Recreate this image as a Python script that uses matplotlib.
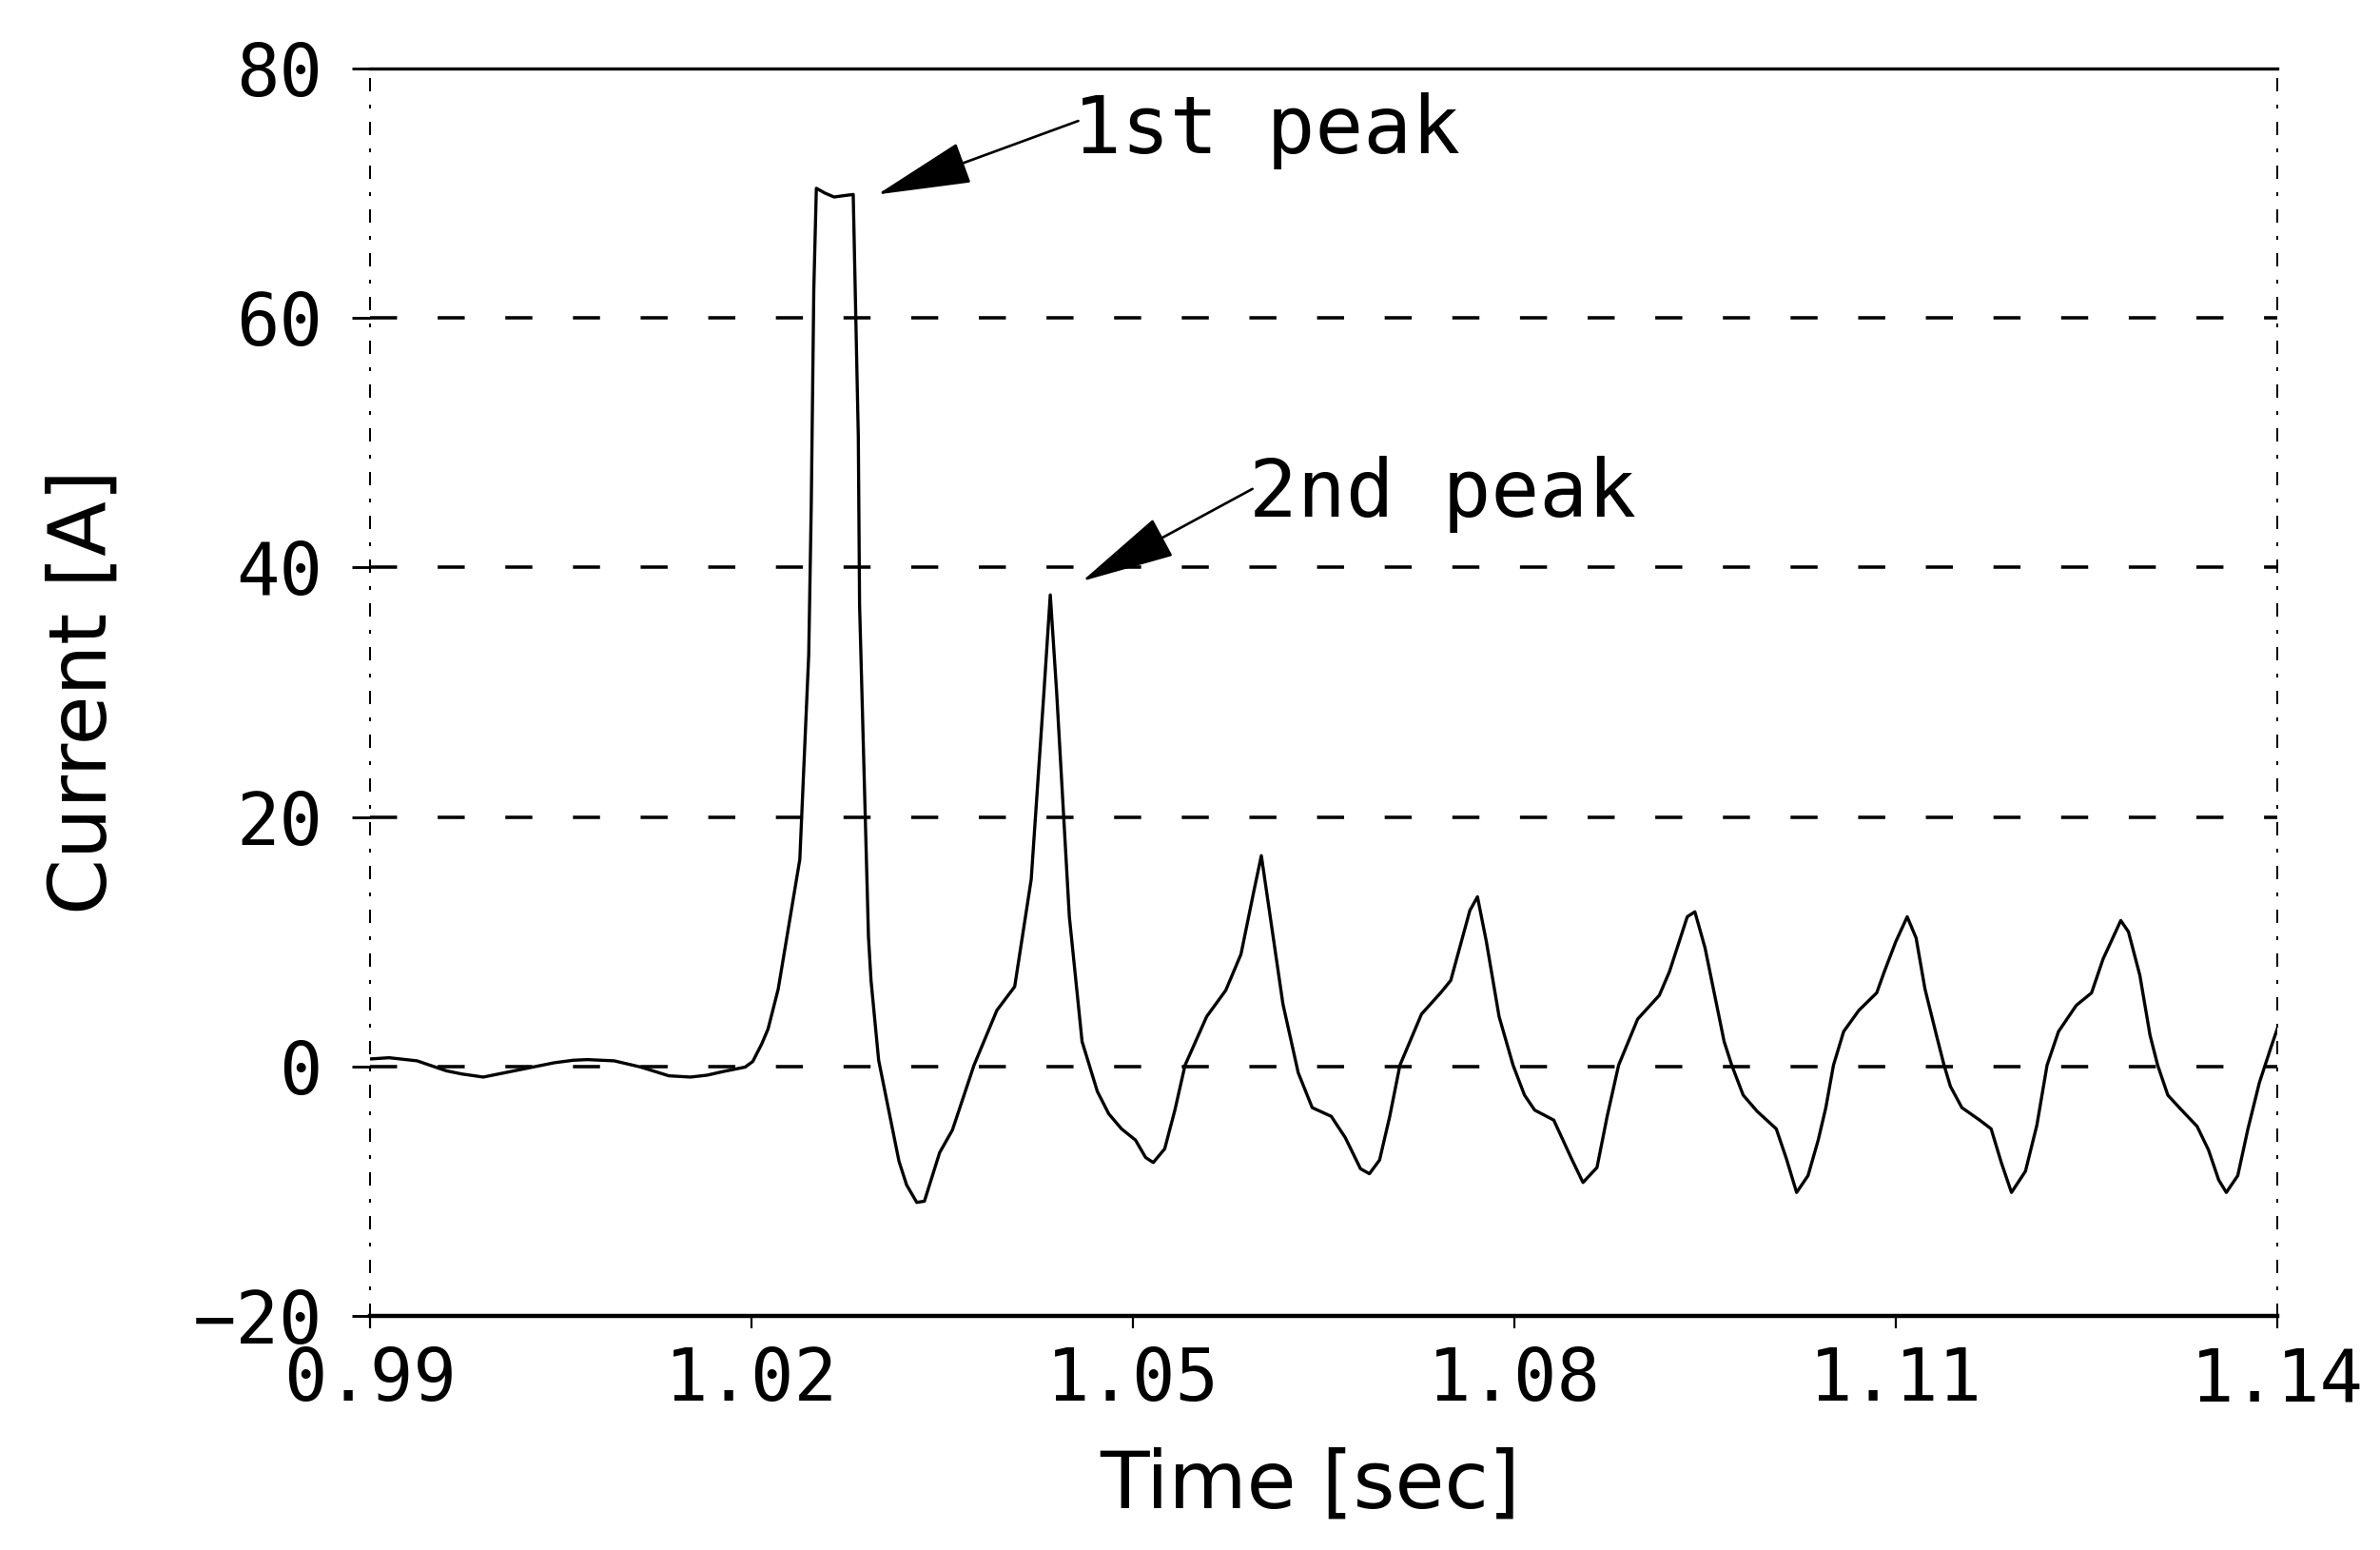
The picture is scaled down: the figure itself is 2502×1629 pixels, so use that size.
import numpy as np
import matplotlib.pyplot as plt

# current waveform
t = [0.9900, 0.9915, 0.9937, 0.9950, 0.9960, 0.9972, 0.9989, 1.0006, 1.0028,
     1.0045, 1.0060, 1.0071, 1.0092, 1.0113, 1.0135, 1.0152, 1.0165, 1.0178,
     1.0195, 1.0201, 1.0208, 1.0213, 1.0221, 1.0238, 1.0245, 1.0247, 1.0249,
     1.0251, 1.0258, 1.0265, 1.0272, 1.0280, 1.0284, 1.0285, 1.0292, 1.0294,
     1.0300, 1.0316, 1.0322, 1.0330, 1.0336, 1.0348, 1.0358, 1.0375, 1.0393,
     1.0407, 1.0420, 1.0430, 1.0435, 1.0440, 1.0450, 1.0460, 1.0472, 1.0481,
     1.0491, 1.0502, 1.0510, 1.0516, 1.0525, 1.0533, 1.0541, 1.0558, 1.0573,
     1.0585, 1.0595, 1.0601, 1.0608, 1.0618, 1.0630, 1.0641, 1.0656, 1.0667,
     1.0679, 1.0686, 1.0694, 1.0702, 1.0710, 1.0727, 1.0742, 1.0750, 1.0765,
     1.0771, 1.0778, 1.0788, 1.0799, 1.0808, 1.0816, 1.0831, 1.0845, 1.0854,
     1.0865, 1.0873, 1.0882, 1.0897, 1.0914, 1.0922, 1.0936, 1.0942, 1.0950,
     1.0965, 1.0971, 1.0980, 1.0991, 1.1006, 1.1014, 1.1022, 1.1031, 1.1039,
     1.1045, 1.1051, 1.1059, 1.1071, 1.1085, 1.1091, 1.1100, 1.1109, 1.1116,
     1.1123, 1.1132, 1.1138, 1.1143, 1.1152, 1.1166, 1.1175, 1.1183, 1.1191,
     1.1202, 1.1211, 1.1219, 1.1228, 1.1242, 1.1254, 1.1263, 1.1277, 1.1283,
     1.1292, 1.1300, 1.1306, 1.1314, 1.1323, 1.1337, 1.1346, 1.1354, 1.1360,
     1.1369, 1.1377, 1.1386, 1.1395, 1.1400]
current = [0.6, 0.7, 0.45, 0.0, -0.35, -0.6, -0.85, -0.5, -0.05,
           0.3, 0.5, 0.55, 0.45, -0.05, -0.75, -0.85, -0.7, -0.4,
           -0.05, 0.4, 1.8, 3.0, 6.2, 16.6, 33.0, 45.0, 62.3,
           70.4, 70.0, 69.7, 69.8, 69.9, 50.5, 37.0, 10.4, 6.9,
           0.5, -7.6, -9.5, -10.9, -10.8, -6.9, -5.1, 0.1, 4.5,
           6.4, 15.0, 30.0, 37.8, 30.0, 12.0, 2.0, -2.0, -3.8,
           -5.0, -5.9, -7.3, -7.7, -6.6, -3.5, 0.1, 4.0, 6.1,
           9.0, 14.0, 16.9, 12.0, 5.0, -0.5, -3.3, -4.0, -5.7,
           -8.2, -8.6, -7.5, -4.0, 0.1, 4.2, 5.9, 6.9, 12.5,
           13.6, 10.0, 4.0, 0.1, -2.3, -3.5, -4.3, -7.4, -9.3,
           -8.1, -4.0, 0.1, 3.8, 5.7, 7.6, 12.0, 12.4, 9.5,
           2.0, 0.1, -2.3, -3.6, -5.0, -7.4, -10.1, -8.75, -5.9,
           -3.3, 0.1, 2.8, 4.5, 5.9, 7.6, 10.0, 12.0, 10.3,
           6.2, 2.5, 0.1, -1.6, -3.3, -4.3, -5.0, -7.7, -10.1,
           -8.4, -4.7, 0.1, 2.8, 4.9, 5.9, 8.6, 11.7, 10.8,
           7.3, 2.5, 0.1, -2.3, -3.3, -4.8, -6.7, -9.1, -10.1,
           -8.75, -5.0, -1.3, 1.5, 3.0]

xticks = [0.99, 1.02, 1.05, 1.08, 1.11, 1.14]
xticklabels = ["0.99", "1.02", "1.05", "1.08", "1.11", "1.14"]
yticks = [-20, 0, 20, 40, 60, 80]
yticklabels = ["\u221220", "0", "20", "40", "60", "80"]

peak_labels = ["1st peak", "2nd peak"]
peak_tips = [(1.0299, 69.9), (1.0460, 38.9)]
peak_tails = [(1.0457, 75.8), (1.0594, 46.3)]
peak_text_pos = [(1.0453, 73.2), (1.0591, 44.1)]

mono = "DejaVu Sans Mono"

fig = plt.figure(figsize=(15.6375, 10.18125), dpi=160)
ax = fig.add_axes([0.1555, 0.1510, 0.8013, 0.8048])

ax.plot(t, current, color="black", linewidth=1.5)

ax.set_xlim(0.99, 1.14)
ax.set_ylim(-20, 80)
ax.set_xticks(xticks)
ax.set_xticklabels(xticklabels, fontfamily=mono, fontsize=34)
ax.set_yticks(yticks)
ax.set_yticklabels(yticklabels, fontfamily=mono, fontsize=34)
ax.tick_params(axis="y", direction="out", length=8.5, width=1.3, pad=14)
ax.tick_params(axis="x", direction="out", length=6, width=1.0, pad=8)

for yv in yticks[1:-1]:
    ax.axhline(yv, color="black", linewidth=1.6, linestyle=(0, (8, 12)), zorder=1)

ax.spines["left"].set_linestyle((0, (6, 8, 1, 8)))
ax.spines["left"].set_linewidth(0.9)
ax.spines["right"].set_linestyle((0, (6, 8, 1, 8)))
ax.spines["right"].set_linewidth(0.9)
ax.spines["top"].set_linewidth(1.5)
ax.spines["bottom"].set_linewidth(2.0)

ax.set_ylabel("Current [A]", fontsize=38)
ax.yaxis.set_label_coords(-0.130, 0.5)
ax.set_xlabel("Time [sec]", fontsize=38, va="top")
ax.xaxis.set_label_coords(0.493, -0.105)

for lab, tip, tail, pos in zip(peak_labels, peak_tips, peak_tails, peak_text_pos):
    ax.annotate("", xy=tip, xytext=tail,
                arrowprops=dict(arrowstyle="-|>,head_length=2.0,head_width=0.45",
                                mutation_scale=20, color="black", linewidth=1.2,
                                shrinkA=0, shrinkB=0))
    ax.text(pos[0], pos[1], lab, fontfamily=mono, fontsize=38,
            ha="left", va="baseline")

plt.savefig("out.png", dpi=160)
